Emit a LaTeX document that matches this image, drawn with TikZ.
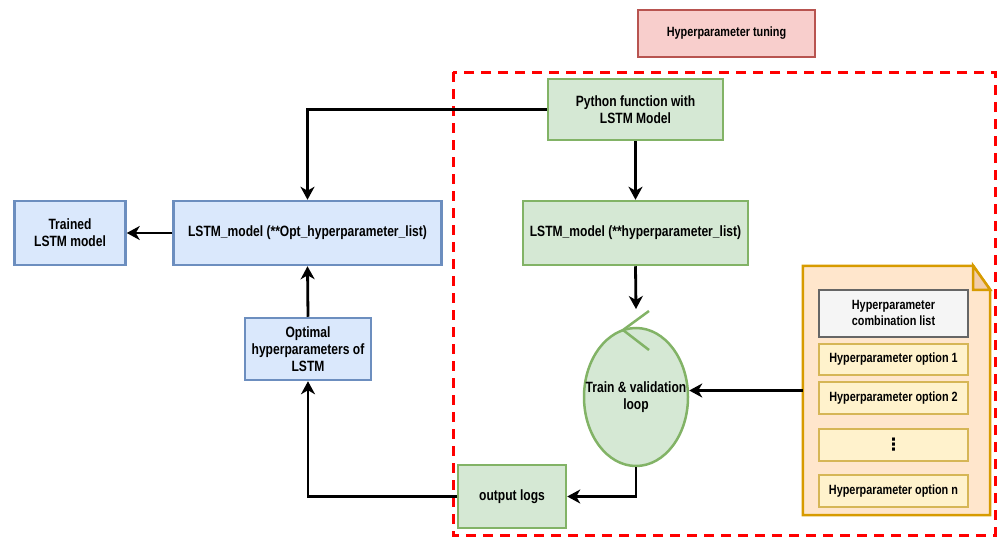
\documentclass[tikz,border=0pt]{standalone}
\usepackage{fontspec}
\setmainfont{Liberation Sans}[FakeStretch=0.81]
\newfontfamily\symfont{DejaVu Sans}
\usetikzlibrary{arrows.meta,shapes.geometric}

\definecolor{grfill}{HTML}{D5E8D4}\definecolor{grline}{HTML}{82B366}
\definecolor{blfill}{HTML}{DAE8FC}\definecolor{blline}{HTML}{6C8EBF}
\definecolor{pkfill}{HTML}{F8CECC}\definecolor{pkline}{HTML}{B85450}
\definecolor{orfill}{HTML}{FFE6CC}\definecolor{orline}{HTML}{D79B00}
\definecolor{orfold}{HTML}{F2CDAA}
\definecolor{ylfill}{HTML}{FFF2CC}\definecolor{ylline}{HTML}{D6B656}
\definecolor{gyfill}{HTML}{F5F5F5}\definecolor{gyline}{HTML}{666666}
\definecolor{dashred}{HTML}{FF0000}

\tikzset{
  mainfont/.style={font=\bfseries\fontsize{14.9}{17}\selectfont},
  box/.style={draw, line width=2.5pt, align=center, inner sep=0pt, mainfont},
  smallbox/.style={box, font=\bfseries\fontsize{13.4}{16}\selectfont},
  greenbox/.style={box, fill=grfill, draw=grline},
  bluebox/.style={box, fill=blfill, draw=blline},
  itembox/.style={smallbox, fill=ylfill, draw=ylline, line width=2pt,
    minimum width=149pt, minimum height=31pt},
  arr/.style={line width=2.8pt, -{Stealth[length=13pt,width=14pt,inset=4pt]}},
  frame/.style={draw=dashred, line width=3pt, dash pattern=on 10pt off 7pt}
}

\begin{document}
\begin{tikzpicture}[x=1pt,y=-1pt]
\useasboundingbox (0,0) rectangle (997,538);

% tuning frame and its caption
\draw[frame] (453,72) rectangle (995,535);
\node[smallbox, fill=pkfill, draw=pkline, line width=2pt,
  minimum width=177pt, minimum height=47pt] (title) at (726.5,33.5) {Hyperparameter tuning};

% green boxes inside the frame
\node[greenbox, minimum width=175pt, minimum height=61pt] (python) at (635.5,109.5)
  {Python function with\\LSTM Model};
\node[greenbox, minimum width=225pt, minimum height=64pt] (hyp) at (635.5,233)
  {LSTM\_model (**hyperparameter\_list)};
\node[greenbox, ellipse, minimum width=104pt, minimum height=138pt,
  label={[mainfont, align=center, inner sep=0pt]center:Train \& validation\\loop}]
  (loop) at (636,397) {};
\node[greenbox, minimum width=108pt, minimum height=63pt] (logs) at (512,496.5)
  {output logs};

% loop marker on top of the ellipse
\draw[grline, line width=2.5pt] (649,311) -- (623,330) -- (649,350);
\coordinate (looptop) at (636,309);

% blue boxes
\node[bluebox, minimum width=268pt, minimum height=64pt] (opt) at (307.5,233)
  {LSTM\_model (**Opt\_hyperparameter\_list)};
\node[bluebox, minimum width=111pt, minimum height=64pt] (trained) at (70,233)
  {Trained\\LSTM model};
\node[bluebox, minimum width=126pt, minimum height=62pt] (optimal) at (308,349)
  {Optimal\\hyperparameters of\\LSTM};

% hyperparameter list document
\node[minimum width=187pt, minimum height=249pt, inner sep=0pt] (doc) at (896.5,390.5) {};
\draw[orline, fill=orfill, line width=2.5pt, line join=miter]
  (doc.north west) -- ([xshift=-17pt]doc.north east) -- ([yshift=-24pt]doc.north east)
  -- (doc.south east) -- (doc.south west) -- cycle;
\draw[orline, fill=orfold, line width=2.5pt, line join=miter]
  ([xshift=-17pt]doc.north east) -- ([xshift=-17pt,yshift=-24pt]doc.north east)
  -- ([yshift=-24pt]doc.north east) -- cycle;

\node[smallbox, fill=gyfill, draw=gyline, line width=2pt,
  minimum width=149pt, minimum height=47pt] (head) at (893.5,313)
  {Hyperparameter\\combination list};
\node[itembox] (opt1) at (893.5,359.5) {Hyperparameter option 1};
\node[itembox, minimum height=32pt] (opt2) at (893.5,398) {Hyperparameter option 2};
\node[itembox, minimum height=32pt] (dots) at (893.5,445) {\symfont\bfseries\fontsize{17}{18}\selectfont ⋮};
\node[itembox, minimum height=32pt] (optn) at (893.5,491) {Hyperparameter option n};

% connectors
\draw[arr] (python.west) -| (opt.north);
\draw[arr] (python.south) -- (hyp.north);
\draw[arr] (hyp.south) -- (looptop);
\draw[arr] (loop.south) |- (logs.east);
\draw[arr] (logs.west) -| (optimal.south);
\draw[arr] (optimal.north) -- (opt.south);
\draw[arr] (opt.west) -- (trained.east);
\draw[arr] (doc.west) -- (loop.east |- doc.west);
\end{tikzpicture}
\end{document}
